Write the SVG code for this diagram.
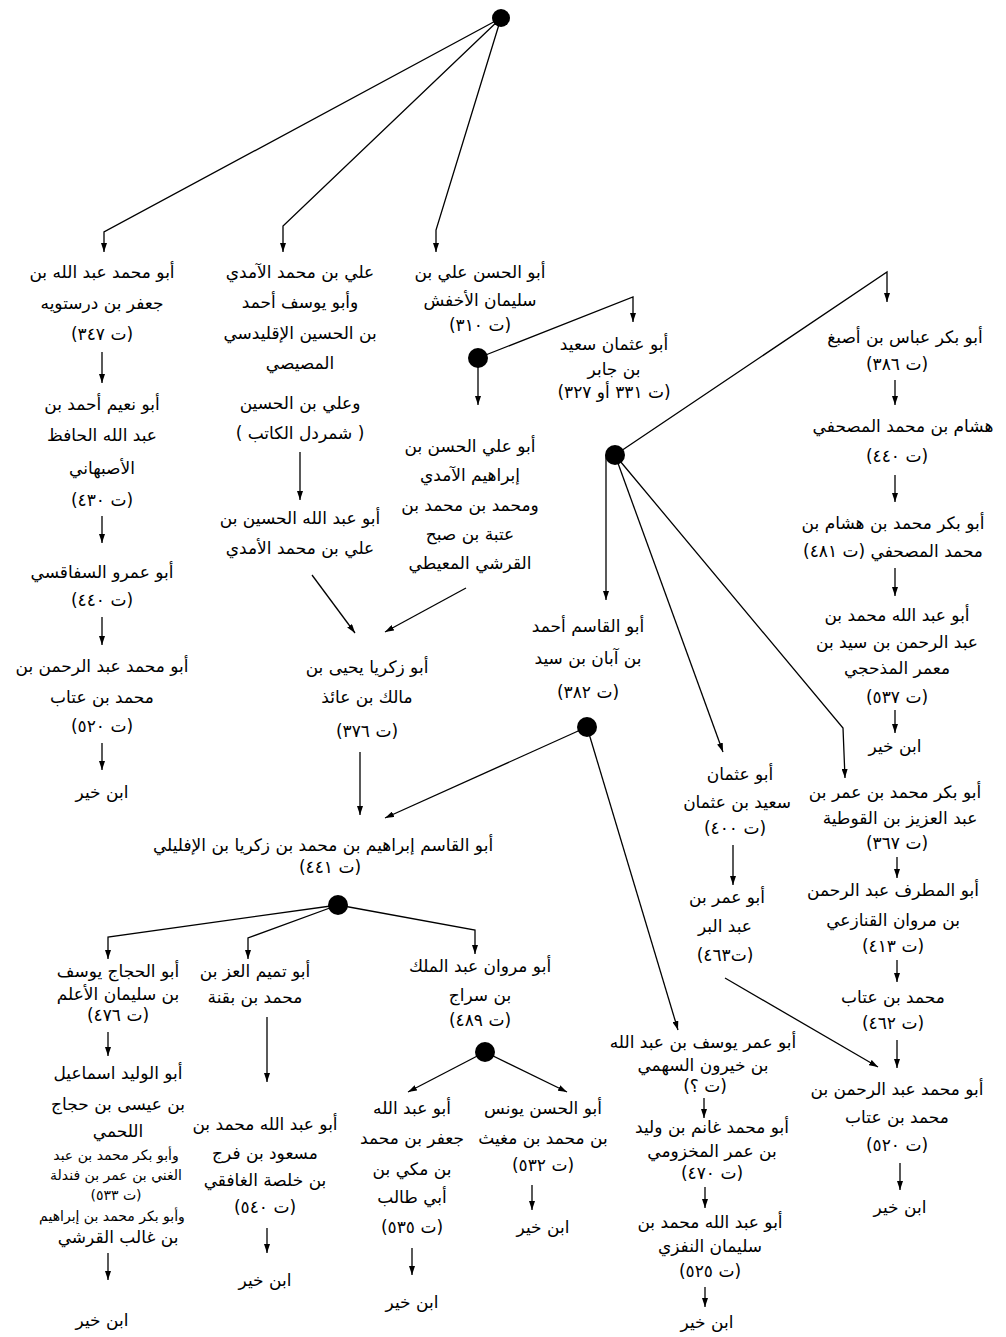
<svg xmlns="http://www.w3.org/2000/svg" width="1006" height="1337" viewBox="0 0 1006 1337">
<style>
text { font-family: "DejaVu Sans", sans-serif; font-size: 17px; fill: #000; text-anchor: middle; direction: rtl; unicode-bidi: embed; }
.s { font-size: 14px; }
.c { stroke: #000; stroke-width: 1.3; fill: none; }
.a { marker-end: url(#ah); }
.dot { fill: #000; }
</style>
<defs>
<marker id="ah" markerWidth="9" markerHeight="6" refX="9" refY="3" orient="auto" markerUnits="userSpaceOnUse"><path d="M0,0 L9,3 L0,6 z" fill="#000"/></marker>
</defs>
<rect width="1006" height="1337" fill="#fff"/>

<g id="connectors">
<circle class="dot" cx="501" cy="18" r="9"/>
<path class="c a" d="M501,18 L104,232 L104,252"/>
<path class="c a" d="M501,18 L283,226 L283,252"/>
<path class="c a" d="M501,18 L436,230 L436,252"/>
<path class="c a" d="M102,352 L102,383"/>
<path class="c a" d="M102,516 L102,543"/>
<path class="c a" d="M102,617 L102,645"/>
<path class="c a" d="M102,743 L102,770"/>
<path class="c a" d="M300,452 L300,500"/>
<path class="c a" d="M312,575 L355,633"/>
<circle class="dot" cx="478" cy="358" r="10"/>
<path class="c a" d="M478,358 L478,405"/>
<path class="c a" d="M478,358 L633,297 L633,322"/>
<path class="c a" d="M466,588 L385,632"/>
<circle class="dot" cx="615" cy="455" r="10"/>
<path class="c a" d="M615,455 L887,272 L887,302"/>
<path class="c a" d="M895,380 L895,405"/>
<path class="c a" d="M895,475 L895,502"/>
<path class="c a" d="M895,568 L895,596"/>
<path class="c a" d="M895,710 L895,733"/>
<path class="c a" d="M606,455 L606,600"/>
<path class="c a" d="M615,455 L723,752"/>
<path class="c a" d="M615,455 L843,728 L845,778"/>
<circle class="dot" cx="587" cy="727" r="10"/>
<path class="c a" d="M587,727 L385,818"/>
<path class="c a" d="M587,727 L678,1030"/>
<path class="c a" d="M360,752 L360,815"/>
<path class="c a" d="M733,845 L733,885"/>
<path class="c a" d="M725,978 L878,1067"/>
<path class="c a" d="M897,857 L897,878"/>
<path class="c a" d="M897,960 L897,982"/>
<path class="c a" d="M897,1040 L897,1068"/>
<path class="c a" d="M900,1163 L900,1190"/>
<path class="c a" d="M704,1098 L704,1118"/>
<path class="c a" d="M705,1187 L705,1208"/>
<path class="c a" d="M705,1287 L705,1307"/>
<circle class="dot" cx="338" cy="905" r="10"/>
<path class="c a" d="M338,905 L108,937 L108,959"/>
<path class="c a" d="M338,905 L248,938 L248,959"/>
<path class="c a" d="M338,905 L475,930 L475,954"/>
<path class="c a" d="M108,1032 L108,1056"/>
<path class="c a" d="M108,1253 L108,1280"/>
<path class="c a" d="M267,1017 L267,1082"/>
<path class="c a" d="M267,1228 L267,1253"/>
<circle class="dot" cx="485" cy="1052" r="10"/>
<path class="c a" d="M485,1052 L408,1092"/>
<path class="c a" d="M485,1052 L567,1092"/>
<path class="c a" d="M412,1248 L412,1275"/>
<path class="c a" d="M532,1185 L532,1210"/>
</g>

<g id="n_durustawayh">
<text x="102" y="278">أبو محمد عبد الله بن</text>
<text x="102" y="309">جعفر بن درستويه</text>
<text x="102" y="340">(ت ٣٤٧)</text>
</g>
<g id="n_abu_nuaym">
<text x="102" y="410">أبو نعيم أحمد بن</text>
<text x="102" y="441">عبد الله الحافظ</text>
<text x="102" y="474">الأصبهاني</text>
<text x="102" y="506">(ت ٤٣٠)</text>
</g>
<g id="n_safaqusi">
<text x="102" y="578">أبو عمرو السفاقسي</text>
<text x="102" y="606">(ت ٤٤٠)</text>
</g>
<g id="n_attab_1">
<text x="102" y="672">أبو محمد عبد الرحمن بن</text>
<text x="102" y="703">محمد بن عتاب</text>
<text x="102" y="732">(ت ٥٢٠)</text>
</g>
<g id="n_ibnkhayr_1">
<text x="102" y="798">ابن خير</text>
</g>

<g id="n_amidi_group">
<text x="300" y="278">علي بن محمد الآمدي</text>
<text x="300" y="308">وأبو يوسف أحمد</text>
<text x="300" y="339">بن الحسين الإقليدسي</text>
<text x="300" y="369">المصيصي</text>
<text x="300" y="409">وعلي بن الحسين</text>
<text x="300" y="439">( شمردل الكاتب )</text>
</g>
<g id="n_husayn_amidi">
<text x="300" y="524">أبو عبد الله الحسين بن</text>
<text x="300" y="554">علي بن محمد الأمدي</text>
</g>

<g id="n_akhfash">
<text x="480" y="278">أبو الحسن علي بن</text>
<text x="480" y="306">سليمان الأخفش</text>
<text x="480" y="331">(ت ٣١٠)</text>
</g>
<g id="n_abu_ali">
<text x="470" y="452">أبو علي الحسن بن</text>
<text x="470" y="481">إبراهيم الآمدي</text>
<text x="470" y="511">ومحمد بن محمد بن</text>
<text x="470" y="540">عتبة بن صبح</text>
<text x="470" y="569">القرشي المعيطي</text>
</g>

<g id="n_said_jabir">
<text x="614" y="350">أبو عثمان سعيد</text>
<text x="614" y="375">بن جابر</text>
<text x="614" y="398">(ت ٣٣١ أو ٣٢٧)</text>
</g>

<g id="n_abbas">
<text x="905" y="343">أبو بكر عباس بن أصبغ</text>
<text x="897" y="370">(ت ٣٨٦)</text>
</g>
<g id="n_hisham">
<text x="903" y="432">هشام بن محمد المصحفي</text>
<text x="897" y="462">(ت ٤٤٠)</text>
</g>
<g id="n_abubakr_mushafi">
<text x="893" y="529">أبو بكر محمد بن هشام بن</text>
<text x="893" y="557">محمد المصحفي (ت ٤٨١)</text>
</g>
<g id="n_madhhiji">
<text x="897" y="621">أبو عبد الله محمد بن</text>
<text x="897" y="648">عبد الرحمن بن سيد بن</text>
<text x="897" y="674">معمر المذحجي</text>
<text x="897" y="703">(ت ٥٣٧)</text>
</g>
<g id="n_ibnkhayr_2">
<text x="895" y="752">ابن خير</text>
</g>

<g id="n_ahmad_aban">
<text x="588" y="632">أبو القاسم أحمد</text>
<text x="588" y="664">بن آبان بن سيد</text>
<text x="588" y="698">(ت ٣٨٢)</text>
</g>

<g id="n_yahya">
<text x="367" y="673">أبو زكريا يحيى بن</text>
<text x="367" y="703">مالك بن عائذ</text>
<text x="367" y="737">(ت ٣٧٦)</text>
</g>

<g id="n_iflili">
<text x="323" y="851">أبو القاسم إبراهيم بن محمد بن زكريا بن الإفليلي</text>
<text x="330" y="873">(ت ٤٤١)</text>
</g>

<g id="n_said_uthman">
<text x="740" y="780">أبو عثمان</text>
<text x="737" y="808">سعيد بن عثمان</text>
<text x="735" y="834">(ت ٤٠٠)</text>
</g>
<g id="n_ibn_abdalbarr">
<text x="727" y="903">أبو عمر بن</text>
<text x="725" y="932">عبد البر</text>
<text x="725" y="961">(ت٤٦٣)</text>
</g>

<g id="n_qutiyya">
<text x="895" y="798">أبو بكر محمد بن عمر بن</text>
<text x="900" y="824">عبد العزيز بن القوطية</text>
<text x="897" y="849">(ت ٣٦٧)</text>
</g>
<g id="n_qanazii">
<text x="893" y="896">أبو المطرف عبد الرحمن</text>
<text x="893" y="926">بن مروان القنازعي</text>
<text x="893" y="952">(ت ٤١٣)</text>
</g>
<g id="n_attab_2">
<text x="893" y="1003">محمد بن عتاب</text>
<text x="893" y="1029">(ت ٤٦٢)</text>
</g>
<g id="n_attab_3">
<text x="897" y="1095">أبو محمد عبد الرحمن بن</text>
<text x="897" y="1123">محمد بن عتاب</text>
<text x="897" y="1151">(ت ٥٢٠)</text>
</g>
<g id="n_ibnkhayr_3">
<text x="900" y="1213">ابن خير</text>
</g>

<g id="n_sahmi">
<text x="703" y="1048">أبو عمر يوسف بن عبد الله</text>
<text x="703" y="1071">بن خيرون السهمي</text>
<text x="705" y="1092">(ت ؟)</text>
</g>
<g id="n_makhzumi">
<text x="712" y="1133">أبو محمد غانم بن وليد</text>
<text x="712" y="1157">بن عمر المخزومي</text>
<text x="712" y="1179">(ت ٤٧٠)</text>
</g>
<g id="n_nafzi">
<text x="710" y="1228">أبو عبد الله محمد بن</text>
<text x="710" y="1252">سليمان النفزي</text>
<text x="710" y="1277">(ت ٥٢٥)</text>
</g>
<g id="n_ibnkhayr_4">
<text x="707" y="1328">ابن خير</text>
</g>

<g id="n_hajjaj">
<text x="118" y="977">أبو الحجاج يوسف</text>
<text x="118" y="1000">بن سليمان الأعلم</text>
<text x="118" y="1021">(ت ٤٧٦)</text>
</g>
<g id="n_lakhmi_group">
<text x="118" y="1079">أبو الوليد اسماعيل</text>
<text x="118" y="1110">بن عيسى بن حجاج</text>
<text x="118" y="1137">اللحمي</text>
<text class="s" x="116" y="1160">وأبو بكر محمد بن عبد</text>
<text class="s" x="116" y="1180">الغني بن عمر بن فندلة</text>
<text class="s" x="116" y="1200">(ت ٥٣٣)</text>
<text class="s" x="112" y="1221">وأبو بكر محمد بن إبراهيم</text>
<text x="118" y="1243">بن غالب القرشي</text>
</g>
<g id="n_ibnkhayr_5">
<text x="102" y="1326">ابن خير</text>
</g>

<g id="n_tamim">
<text x="255" y="977">أبو تميم العز بن</text>
<text x="255" y="1003">محمد بن بقنة</text>
</g>
<g id="n_ghafiqi">
<text x="265" y="1130">أبو عبد الله محمد بن</text>
<text x="265" y="1159">مسعود بن فرج</text>
<text x="265" y="1186">بن خلصة الغافقي</text>
<text x="265" y="1213">(ت ٥٤٠)</text>
</g>
<g id="n_ibnkhayr_6">
<text x="265" y="1286">ابن خير</text>
</g>

<g id="n_siraj">
<text x="480" y="972">أبو مروان عبد الملك</text>
<text x="480" y="1001">بن سراج</text>
<text x="480" y="1026">(ت ٤٨٩)</text>
</g>
<g id="n_jafar">
<text x="412" y="1114">أبو عبد الله</text>
<text x="412" y="1144">جعفر بن محمد</text>
<text x="412" y="1175">بن مكي بن</text>
<text x="412" y="1203">أبي طالب</text>
<text x="412" y="1233">(ت ٥٣٥)</text>
</g>
<g id="n_ibnkhayr_7">
<text x="412" y="1308">ابن خير</text>
</g>
<g id="n_mughith">
<text x="543" y="1114">أبو الحسن يونس</text>
<text x="543" y="1144">بن محمد بن مغيث</text>
<text x="543" y="1171">(ت ٥٣٢)</text>
</g>
<g id="n_ibnkhayr_8">
<text x="543" y="1233">ابن خير</text>
</g>
</svg>
